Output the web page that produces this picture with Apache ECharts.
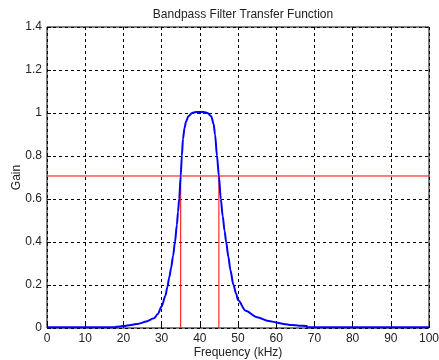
<!DOCTYPE html>
<html>
<head>
<meta charset="utf-8">
<script src="https://cdn.jsdelivr.net/npm/echarts@6/dist/echarts.min.js"></script>
<style>
  html, body { margin: 0; padding: 0; background: #fff; }
  #chart { width: 439px; height: 360px; }
</style>
</head>
<body>
<div id="chart"></div>
<script>
// bandpass response
const freq = [0, 5, 10, 15, 18, 18.1, 20, 22, 24, 26, 28, 29, 30, 31, 31.5, 32, 32.5, 33, 33.5, 34, 34.3, 34.6, 35, 35.3, 35.6, 36, 36.4, 37, 38, 39, 40, 41, 42, 43, 43.6, 44, 44.5, 45, 45.5, 46, 46.5, 46.9, 47.5, 48, 48.8, 49.5, 50, 52, 55, 58, 60, 62, 64, 66, 68, 68.1, 75, 80, 90, 100];
const gain = [0.003, 0.003, 0.003, 0.003, 0.003, 0.006, 0.009, 0.014, 0.02, 0.03, 0.045, 0.065, 0.1, 0.15, 0.19, 0.235, 0.28, 0.335, 0.4, 0.48, 0.54, 0.6, 0.707, 0.8, 0.88, 0.93, 0.96, 0.985, 1.0, 1.005, 1.005, 1.005, 1.0, 0.985, 0.95, 0.9, 0.8, 0.707, 0.6, 0.52, 0.45, 0.4, 0.33, 0.27, 0.2, 0.16, 0.13, 0.08, 0.05, 0.033, 0.026, 0.019, 0.014, 0.011, 0.009, 0.003, 0.003, 0.003, 0.003, 0.003];

const cutoffGain = 0.707;
const cutoffFreqs = [35, 45];

const xTicks = [0, 100, 10];
const yTicks = [0, 1.4, 0.2];

const chart = echarts.init(document.getElementById('chart'));

const font = 'Liberation Sans, Arial, sans-serif';
const axisCommon = {
  axisLine: { show: false },
  axisTick: { show: true, inside: true, length: 4, lineStyle: { color: '#000' } },
  axisLabel: { color: '#222', fontSize: 12, fontFamily: font, margin: 5 },
  splitLine: { show: true, lineStyle: { color: '#000', type: [3, 3], width: 1 } },
  nameTextStyle: { color: '#222', fontSize: 12, fontFamily: font },
  nameMoveOverlap: false,
};

const series = [
  {
    type: 'line',
    data: [[0, cutoffGain], [100, cutoffGain]],
    symbol: 'none',
    lineStyle: { color: '#ff0000', width: 1 },
    z: 3,
  },
];
cutoffFreqs.forEach(f => {
  series.push({
    type: 'line',
    data: [[f, 0], [f, cutoffGain]],
    symbol: 'none',
    lineStyle: { color: '#ff0000', width: 1 },
    z: 3,
  });
});
series.push({
  type: 'line',
  data: freq.map((f, i) => [f, gain[i]]),
  symbol: 'none',
  smooth: 0.3,
  smoothMonotone: 'x',
  lineStyle: { color: '#0000ff', width: 2 },
  z: 4,
});

chart.setOption({
  animation: false,
  title: {
    text: 'Bandpass Filter Transfer Function',
    left: 238, top: 4, textAlign: 'center',
    textStyle: { fontSize: 12, fontWeight: 'normal', color: '#222', fontFamily: font },
  },
  grid: {
    left: 47, right: 10, top: 27, bottom: 32,
    outerBoundsMode: 'none',
    show: true, borderColor: '#000', borderWidth: 1, backgroundColor: '#fff',
  },
  xAxis: {
    type: 'value', min: xTicks[0], max: xTicks[1], interval: xTicks[2],
    name: 'Frequency (kHz)', nameLocation: 'middle', nameGap: 19,
    ...axisCommon,
  },
  yAxis: {
    type: 'value', min: yTicks[0], max: yTicks[1], interval: yTicks[2],
    name: 'Gain', nameLocation: 'middle', nameGap: 24,
    ...axisCommon,
    axisLabel: {
      ...axisCommon.axisLabel,
      formatter: v => String(Math.round(v * 10) / 10),
    },
  },
  series,
});
</script>
</body>
</html>
